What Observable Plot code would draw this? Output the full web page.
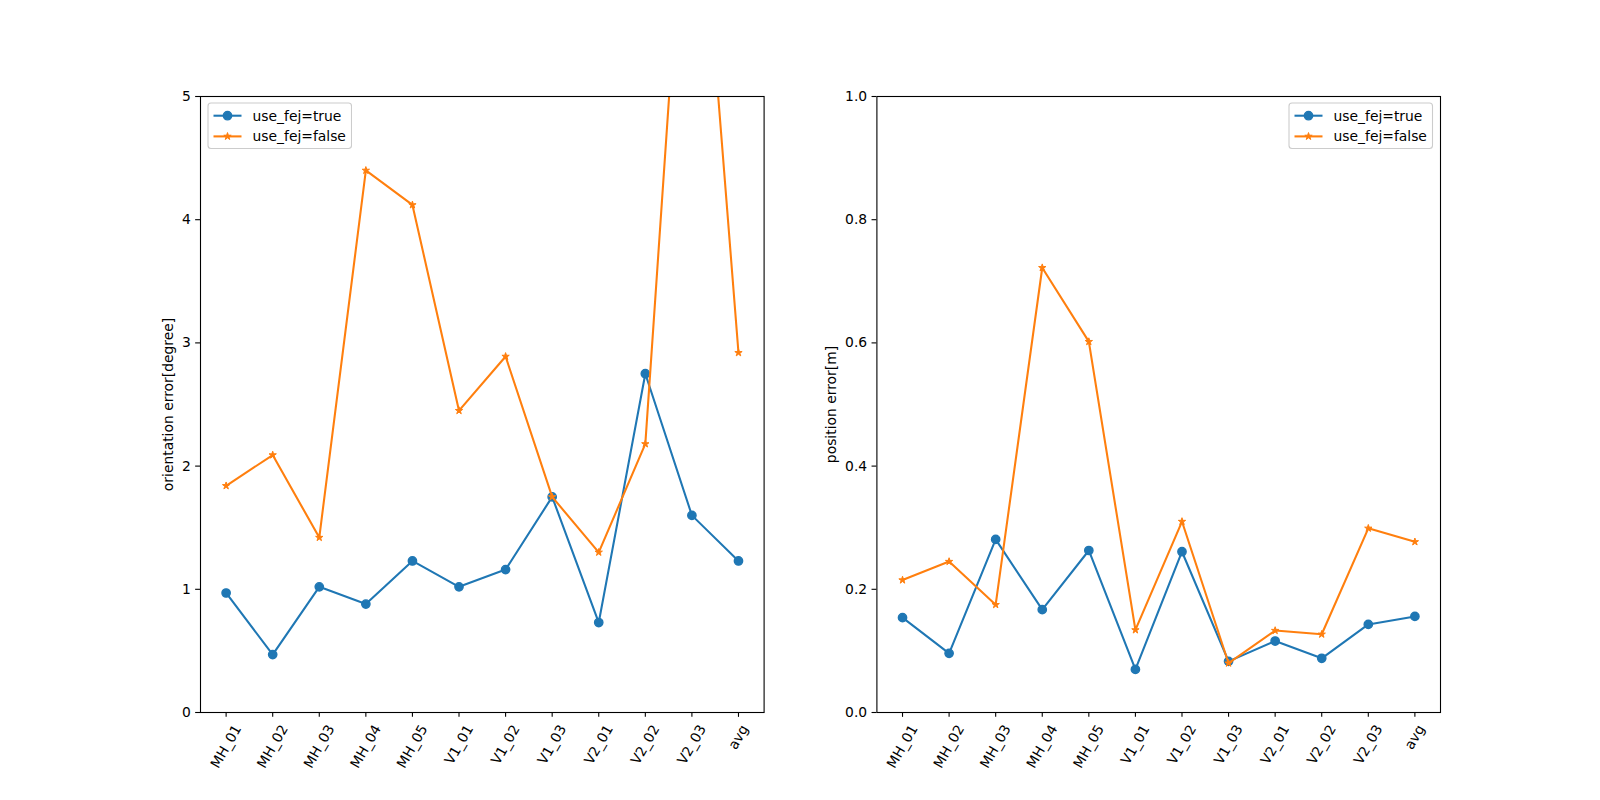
<!DOCTYPE html>
<html>
<head>
<meta charset="utf-8">
<script src="https://cdn.jsdelivr.net/npm/d3@7"></script>
<script src="https://cdn.jsdelivr.net/npm/@observablehq/plot@0.6"></script>
<style>
  body { margin: 0; background: #fff; }
  #fig { position: relative; width: 1600px; height: 800px; background: #fff; font-family: "DejaVu Sans", sans-serif; }
  .panel { position: absolute; top: 0; }
  .legend { position: absolute; }
</style>
</head>
<body>
<div id="fig"></div>
<script>
// ---- data ----
const sequences = ["MH_01","MH_02","MH_03","MH_04","MH_05","V1_01","V1_02","V1_03","V2_01","V2_02","V2_03","avg"];
const seriesNames = ["use_fej=true", "use_fej=false"];
const orientTrue  = [0.97, 0.47, 1.02, 0.88, 1.23, 1.02, 1.16, 1.75, 0.73, 2.75, 1.60, 1.23];
const orientFalse = [1.84, 2.09, 1.42, 4.40, 4.12, 2.45, 2.89, 1.75, 1.30, 2.18, 7.70, 2.92];
const posTrue  = [0.154, 0.096, 0.281, 0.167, 0.263, 0.070, 0.261, 0.083, 0.116, 0.088, 0.143, 0.156];
const posFalse = [0.215, 0.245, 0.175, 0.722, 0.602, 0.134, 0.310, 0.080, 0.133, 0.127, 0.299, 0.277];
const orientTicks = [0, 1, 2, 3, 4, 5];
const posTicks = [0, 0.2, 0.4, 0.6, 0.8, 1.0];

const BLUE = "#1f77b4", ORANGE = "#ff7f0e";
const FS = 13.89;
const FONT = "DejaVu Sans";
const STAR_R = 2.3, STAR_SW = 1.0;

const ctx = document.createElement("canvas").getContext("2d");
ctx.font = `${FS}px "${FONT}"`;
function textW(s) { return ctx.measureText(s).width; }

function toRows(vals) { return sequences.map((s, i) => ({seq: s, v: vals[i]})); }

function makePanel({tv, fv, domain, ticks, fmt, ylabel, labelDx, mLeft, mRight}) {
  const tRows = toRows(tv), fRows = toRows(fv);
  const xLabelMarks = sequences.map(s => {
    const w = textW(s);
    const dy = 4.86 + 4.86 + (w * 0.866 + 16 * 0.5) / 2;
    return Plot.text([s], {x: d => d, frameAnchor: "bottom", dy, rotate: -60,
      textAnchor: "middle", lineAnchor: "middle", fontSize: FS, fill: "black"});
  });
  return Plot.plot({
    width: 800, height: 800,
    marginLeft: mLeft, marginRight: mRight, marginTop: 96, marginBottom: 88,
    style: {fontFamily: FONT, color: "black", background: "transparent", overflow: "visible"},
    x: {type: "point", domain: sequences, padding: 0.55, align: 0.5, round: false},
    y: {domain, round: false},
    marks: [
      Plot.axisY({ticks, tickSize: 4.86, tickPadding: 4.86, tickFormat: fmt, fontSize: FS, label: null, strokeWidth: 1.1}),
      Plot.axisX({tickSize: 4.86, tickFormat: () => "", label: null, strokeWidth: 1.1}),
      ...xLabelMarks,
      Plot.text([ylabel], {frameAnchor: "left", dx: labelDx, rotate: -90, textAnchor: "middle", lineAnchor: "middle", fontSize: FS, fill: "black"}),
      Plot.line(tRows, {x: "seq", y: "v", stroke: BLUE, strokeWidth: 2.08, clip: true}),
      Plot.dot(tRows, {x: "seq", y: "v", r: 4.17, fill: BLUE, stroke: BLUE, strokeWidth: 1.39, clip: true}),
      Plot.line(fRows, {x: "seq", y: "v", stroke: ORANGE, strokeWidth: 2.08, clip: true}),
      Plot.dot(fRows, {x: "seq", y: "v", symbol: "star", r: STAR_R, fill: ORANGE, stroke: ORANGE, strokeWidth: STAR_SW, clip: true}),
      Plot.frame({stroke: "black", strokeWidth: 1.1})
    ]
  });
}

function makeLegend(left, top) {
  const W = 143.5, H = 45.5;
  const svg = d3.create("svg").attr("class", "legend").attr("width", W + 2).attr("height", H + 2)
    .style("left", (left - 1) + "px").style("top", (top - 1) + "px");
  svg.append("rect").attr("x", 1).attr("y", 1).attr("width", W).attr("height", H)
    .attr("rx", 3).attr("fill", "rgba(255,255,255,0.8)").attr("stroke", "#cccccc").attr("stroke-width", 1.1);
  const rows = [{y: 13.7, c: BLUE, sym: "circle"}, {y: 34.4, c: ORANGE, sym: "star"}];
  rows.forEach((r, i) => {
    const g = svg.append("g");
    g.append("line").attr("x1", 6.5).attr("x2", 34.5).attr("y1", r.y).attr("y2", r.y)
      .attr("stroke", r.c).attr("stroke-width", 2.08);
    if (r.sym === "circle") {
      g.append("circle").attr("cx", 20.5).attr("cy", r.y).attr("r", 4.17).attr("fill", r.c).attr("stroke", r.c).attr("stroke-width", 1.39);
    } else {
      const p = d3.symbol(d3.symbolStar, Math.PI * STAR_R * STAR_R)();
      g.append("path").attr("d", p).attr("transform", `translate(20.5,${r.y})`).attr("fill", r.c).attr("stroke", r.c).attr("stroke-width", STAR_SW);
    }
    g.append("text").attr("x", 45.5).attr("y", r.y).attr("dominant-baseline", "central")
      .attr("font-family", FONT).attr("font-size", FS).attr("fill", "black").text(seriesNames[i]);
  });
  return svg.node();
}

const fig = document.getElementById("fig");

const left = makePanel({tv: orientTrue, fv: orientFalse, domain: [0, 5], ticks: orientTicks, fmt: d3.format("d"),
  ylabel: "orientation error[degree]", labelDx: -31.5, mLeft: 200, mRight: 36.4});
left.classList.add("panel"); left.style.left = "0px";
fig.appendChild(left);

const right = makePanel({tv: posTrue, fv: posFalse, domain: [0, 1], ticks: posTicks, fmt: d3.format(".1f"),
  ylabel: "position error[m]", labelDx: -45.4, mLeft: 76.4, mRight: 160});
right.classList.add("panel"); right.style.left = "800px";
fig.appendChild(right);

fig.appendChild(makeLegend(207.7, 103.3));
fig.appendChild(makeLegend(1289.3, 103.3));
</script>
</body>
</html>
